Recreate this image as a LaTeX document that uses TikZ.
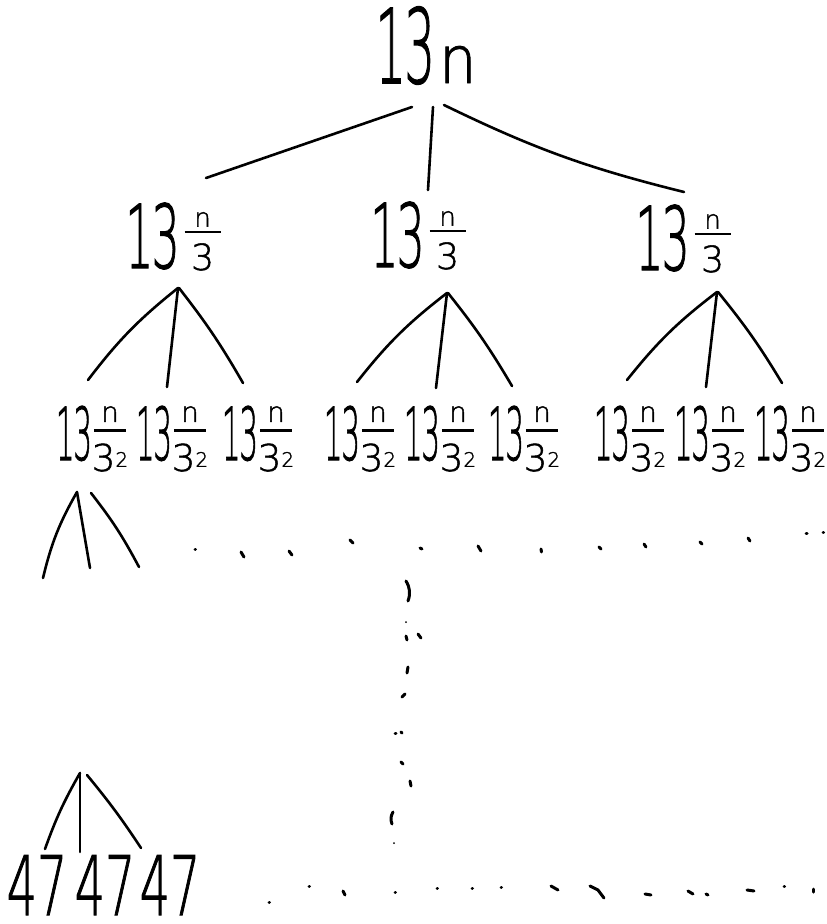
\RequirePackage{fix-cm}
\documentclass[tikz,border=0pt]{standalone}
\usepackage{fontspec}
\usetikzlibrary{calc}

% thin sans strokes for the hand-written labels
\IfFontExistsTF{DejaVu Sans ExtraLight}
  {\newfontfamily\handfont[FakeBold=1.5]{DejaVu Sans ExtraLight}}
  {\newfontfamily\handfont{DejaVu Sans}}

% horizontally squeezed text at a given size
\newcommand{\hwsq}[3]{\scalebox{#1}[1]{\fontsize{#2}{#2}\selectfont\handfont #3}}
\newcommand{\tthree}{1\kern-0.04em 3}
\newcommand{\hwsize}[2]{{\fontsize{#1}{#1}\selectfont\handfont #2}}
% stacked fraction: numerator, denominator, bar width, gap above bar, gap below bar
\newcommand{\hwfrac}[5]{\vbox{\hbox to #3{\hss#1\hss}\kern#4\hrule height 2.6pt\kern#5\hbox to #3{\hss#2\hss}}}
\newcommand{\costtop}{\hwsq{0.47}{103}{\tthree}\kern4pt\hwsq{0.9}{66}{n}}
\newcommand{\costone}{\hwsq{0.5}{88}{\tthree}\kern5pt\raisebox{-2pt}{\hwfrac{\hwsize{26}{n}}{\hwsize{36}{3}}{36pt}{4pt}{10pt}}}
\newcommand{\costtwo}{\hwsq{0.4}{73}{\tthree}\kern2pt\raisebox{-11pt}{\hwfrac{\hwsize{28}{n}}{\hwsize{37}{3}\raisebox{0.42em}{\hwsize{20}{2}}}{32pt}{7pt}{12pt}}}
\newcommand{\leafcost}{\hwsq{0.58}{82}{47}}

\tikzset{
  edge/.style={line width=2.6pt, line cap=round, line join=round},
  lbl/.style={inner sep=0pt, anchor=base},
  speck/.style={line width=3pt, line cap=round},
}

\begin{document}
\begin{tikzpicture}[x=1pt, y=-1pt]
\useasboundingbox (0,0) rectangle (827,924);

% cost labels, placed by their baselines
\node[lbl] (root) at (426,83) {\costtop};
\node[lbl] (a1) at (173,268) {\costone};
\node[lbl] (a2) at (418,267) {\costone};
\node[lbl] (a3) at (683,270) {\costone};
\foreach \i/\x in {1/91, 2/171, 3/257, 4/359, 5/439, 6/523, 7/629, 8/709, 9/789}
  \node[lbl] (b\i) at (\x,460) {\costtwo};
\node[lbl] (l1) at (37,915) {\leafcost};
\node[lbl] (l2) at (105,915) {\leafcost};
\node[lbl] (l3) at (170,915) {\leafcost};

% loose ends of the partial fans
\coordinate (c1) at (43,578);
\coordinate (c2) at (90,568);
\coordinate (c3) at (139,567);
\coordinate (apex) at (80,773);
\coordinate (apexr) at (87,775);

% root to first level
\draw[edge] ([shift={(-14,24)}]root.base) -- ([shift={(33,-90)}]a1.base);
\draw[edge] ([shift={(7,24)}]root.base) -- ([shift={(10,-77)}]a2.base);
\draw[edge] ([shift={(18,22)}]root.base) to[bend right=6] ([shift={(1,-78)}]a3.base);

% first level to second level
\draw[edge] ([shift={(5,20)}]a1.base) to[bend right=7] ([shift={(-3,-80)}]b1.base);
\draw[edge] ([shift={(5,20)}]a1.base) -- ([shift={(-4,-73)}]b2.base);
\draw[edge] ([shift={(6,20)}]a1.base) to[bend left=4] ([shift={(-14,-77)}]b3.base);

\draw[edge] ([shift={(29,26)}]a2.base) to[bend right=7] ([shift={(-2,-78)}]b4.base);
\draw[edge] ([shift={(29,26)}]a2.base) -- ([shift={(-3,-72)}]b5.base);
\draw[edge] ([shift={(30,26)}]a2.base) to[bend left=4] ([shift={(-11,-74)}]b6.base);

\draw[edge] ([shift={(34,22)}]a3.base) to[bend right=7] ([shift={(-2,-80)}]b7.base);
\draw[edge] ([shift={(34,22)}]a3.base) -- ([shift={(-3,-73)}]b8.base);
\draw[edge] ([shift={(35,22)}]a3.base) to[bend left=4] ([shift={(-7,-77)}]b9.base);

% partial fan below the first second-level label
\draw[edge] ([shift={(-14,32)}]b1.base) to[bend right=8] (c1);
\draw[edge] ([shift={(-14,32)}]b1.base) -- (c2);
\draw[edge] ([shift={(0,33)}]b1.base) to[bend left=5] (c3);

% fan above the leaves
\draw[edge] (apex) to[bend right=5] ([shift={(8,-66)}]l1.base);
\draw[edge] (apex) -- ([shift={(-25,-63)}]l2.base);
\draw[edge] (apexr) to[bend left=3] ([shift={(-29,-67)}]l3.base);

% row of dots after the second level
\foreach \xa/\ya/\xb/\yb in {195/549/195.5/549, 241/552/244/557, 289/551/292/555,
    350/540/353/543, 420/548/422/549, 478/546/481/551, 541/549/541.5/552,
    599/547/601/549, 644/544/646/547, 700/542/702/544, 748/538/750/541,
    806/533/807/533, 823/532/823.5/532}
  \draw[speck] (\xa,\ya) -- (\xb,\yb);

% vertical column of dots
\draw[speck] (406,581) to[bend left=25] (408,601);
\foreach \xa/\ya/\xb/\yb in {406/636/407/640, 418/634/421/638, 408/667/407/673,
    402/697/405/694, 395/733/396/733, 401/732/402/733, 401/762/403/764,
    410/781/411/786}
  \draw[speck] (\xa,\ya) -- (\xb,\yb);
\draw[speck] (393,812) to[bend right=25] (392,824);
\fill (406,622) circle (1pt);
\fill (394,843) circle (1pt);

% row of dots beside the leaves
\foreach \xa/\ya/\xb/\yb in {269/902/269.5/902, 309/886/309.5/886, 343/891/345/895,
    395/892/395.5/892, 437/888/437.5/888, 472/888/472.5/888, 501/887/501.5/887,
    551/886/558/890, 645/894/651/895, 688/891/693/894, 706/894/708/895,
    747/890/754/891, 784/886/784.5/886, 813/889/813/892}
  \draw[speck] (\xa,\ya) -- (\xb,\yb);
\draw[speck] (590,886) -- (598,890) -- (604,898);
\end{tikzpicture}
\end{document}
